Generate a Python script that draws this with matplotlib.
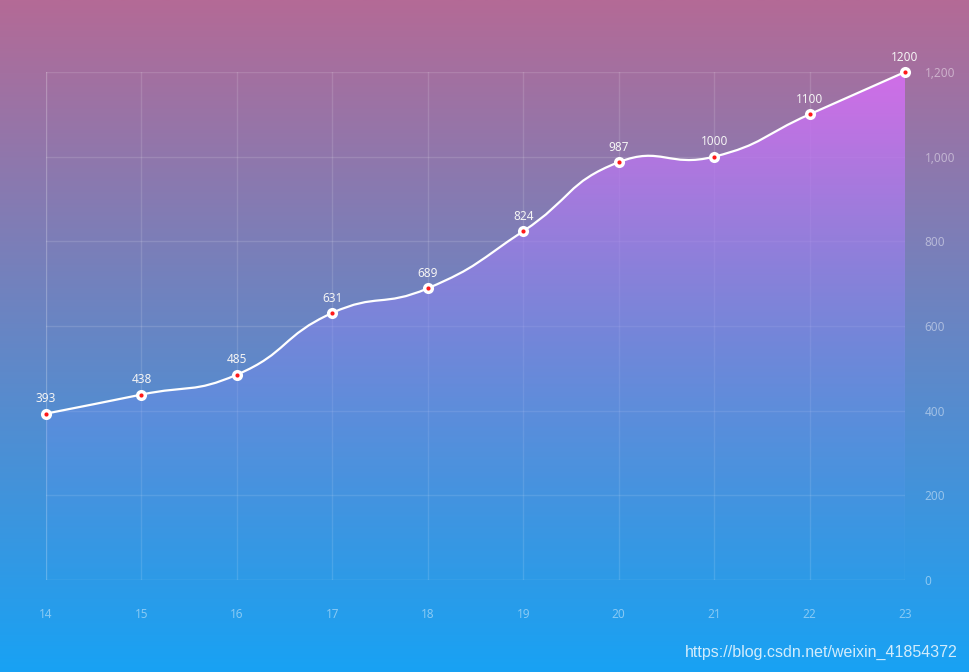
import matplotlib
matplotlib.use("Agg")
import matplotlib.pyplot as plt
import numpy as np
from matplotlib.path import Path
from matplotlib.patches import PathPatch
from matplotlib.ticker import FuncFormatter

# data
days = [14, 15, 16, 17, 18, 19, 20, 21, 22, 23]
values = [393, 438, 485, 631, 689, 824, 987, 1000, 1100, 1200]
y_ticks = [0, 200, 400, 600, 800, 1000, 1200]

plt.rcParams['font.family'] = ['Noto Sans', 'DejaVu Sans']

W, H = 970, 672
fig = plt.figure(figsize=(W / 100, H / 100), dpi=100)

# background gradient (top pink -> bottom blue)
bg = fig.add_axes([0, 0, 1, 1], zorder=0)
top = np.array([180, 106, 150]) / 255
bot = np.array([24, 162, 244]) / 255
t = np.linspace(0, 1, 256)[:, None]
grad = top[None, :] * (1 - t) + bot[None, :] * t
bg.imshow(grad[:, None, :], aspect='auto', extent=[0, 1, 0, 1])
bg.set_axis_off()

left, right, top_px, bottom_px = 46, 905, 72, 580
ax = fig.add_axes([left / W, 1 - bottom_px / H, (right - left) / W, (bottom_px - top_px) / H], zorder=1)
ax.patch.set_alpha(0)
ax.set_xlim(days[0], days[-1])
ax.set_ylim(0, 1200)

# smooth line like echarts (bezier controls computed in pixel space)
sx = (right - left) / (days[-1] - days[0])
sy = (bottom_px - top_px) / 1200.0
pts = np.array([[d * sx, v * sy] for d, v in zip(days, values)])
smooth = 0.5
cps = []
n = len(pts)
for i in range(n):
    p = pts[i]
    prev = pts[i - 1] if i > 0 else p
    nxt = pts[i + 1] if i < n - 1 else p
    v = (nxt - prev) * smooth
    d0 = np.hypot(*(p - prev))
    d1 = np.hypot(*(p - nxt))
    s = d0 + d1
    if s:
        d0 /= s
        d1 /= s
    cps.append((p - v * d0, p + v * d1))

verts = [pts[0]]
codes = [Path.MOVETO]
for i in range(n - 1):
    verts += [cps[i][1], cps[i + 1][0], pts[i + 1]]
    codes += [Path.CURVE4] * 3
verts = np.array(verts) / np.array([sx, sy])

line_path = Path(verts, codes)

# area under line with vertical gradient
area_verts = np.vstack([verts, [[days[-1], 0], [days[0], 0], verts[0]]])
area_codes = codes + [Path.LINETO, Path.LINETO, Path.CLOSEPOLY]
area = PathPatch(Path(area_verts, area_codes), facecolor='none', edgecolor='none')
ax.add_patch(area)
g = np.linspace(1, 0, 256)[:, None]
c_top = np.array([212, 110, 236]) / 255
c_bot = np.array([60, 160, 245]) / 255
rgba = np.zeros((256, 1, 4))
rgba[:, 0, :3] = c_top * g + c_bot * (1 - g)
rgba[:, 0, 3] = 0.05 + 0.9 * g[:, 0]
im = ax.imshow(rgba, aspect='auto', extent=[days[0], days[-1], 0, 1200], zorder=2, origin='upper')
im.set_clip_path(area)

ax.add_patch(PathPatch(line_path, facecolor='none', edgecolor='white', lw=1.6, zorder=3, clip_on=False))

ax.plot(days, values, 'o', ms=8, mfc='white', mec='none', zorder=4, clip_on=False)
ax.plot(days, values, 'o', ms=3, mfc='#ff1a1a', mec='none', zorder=5, clip_on=False)

for d, v in zip(days, values):
    ax.annotate(str(v), (d, v), xytext=(0, 6), textcoords='offset points',
                ha='center', va='bottom', color='#f4f4f4', fontsize=8.5, zorder=6)

# grid and axes
ax.set_xticks(days)
ax.set_yticks(y_ticks)
ax.grid(True, color='white', alpha=0.13, lw=1)
for s in ax.spines.values():
    s.set_visible(False)
ax.axhline(0, color='white', alpha=0.13, lw=1)
ax.axvline(days[0], color='white', alpha=0.13, lw=1)
ax.yaxis.tick_right()
ax.yaxis.set_major_formatter(FuncFormatter(lambda v, p: f'{int(v):,}'))
ax.tick_params(axis='both', length=0, colors=(1, 1, 1, 0.45), labelsize=8.5)
ax.tick_params(axis='x', pad=20)
ax.tick_params(axis='y', pad=14)

fig.text(958 / W, 1 - 652 / H, 'https://blog.csdn.net/weixin_41854372', ha='right', va='center',
         color=(1, 1, 1, 0.8), fontsize=11.5, family=['Liberation Sans', 'DejaVu Sans'])

fig.savefig('out.png', dpi=100)
